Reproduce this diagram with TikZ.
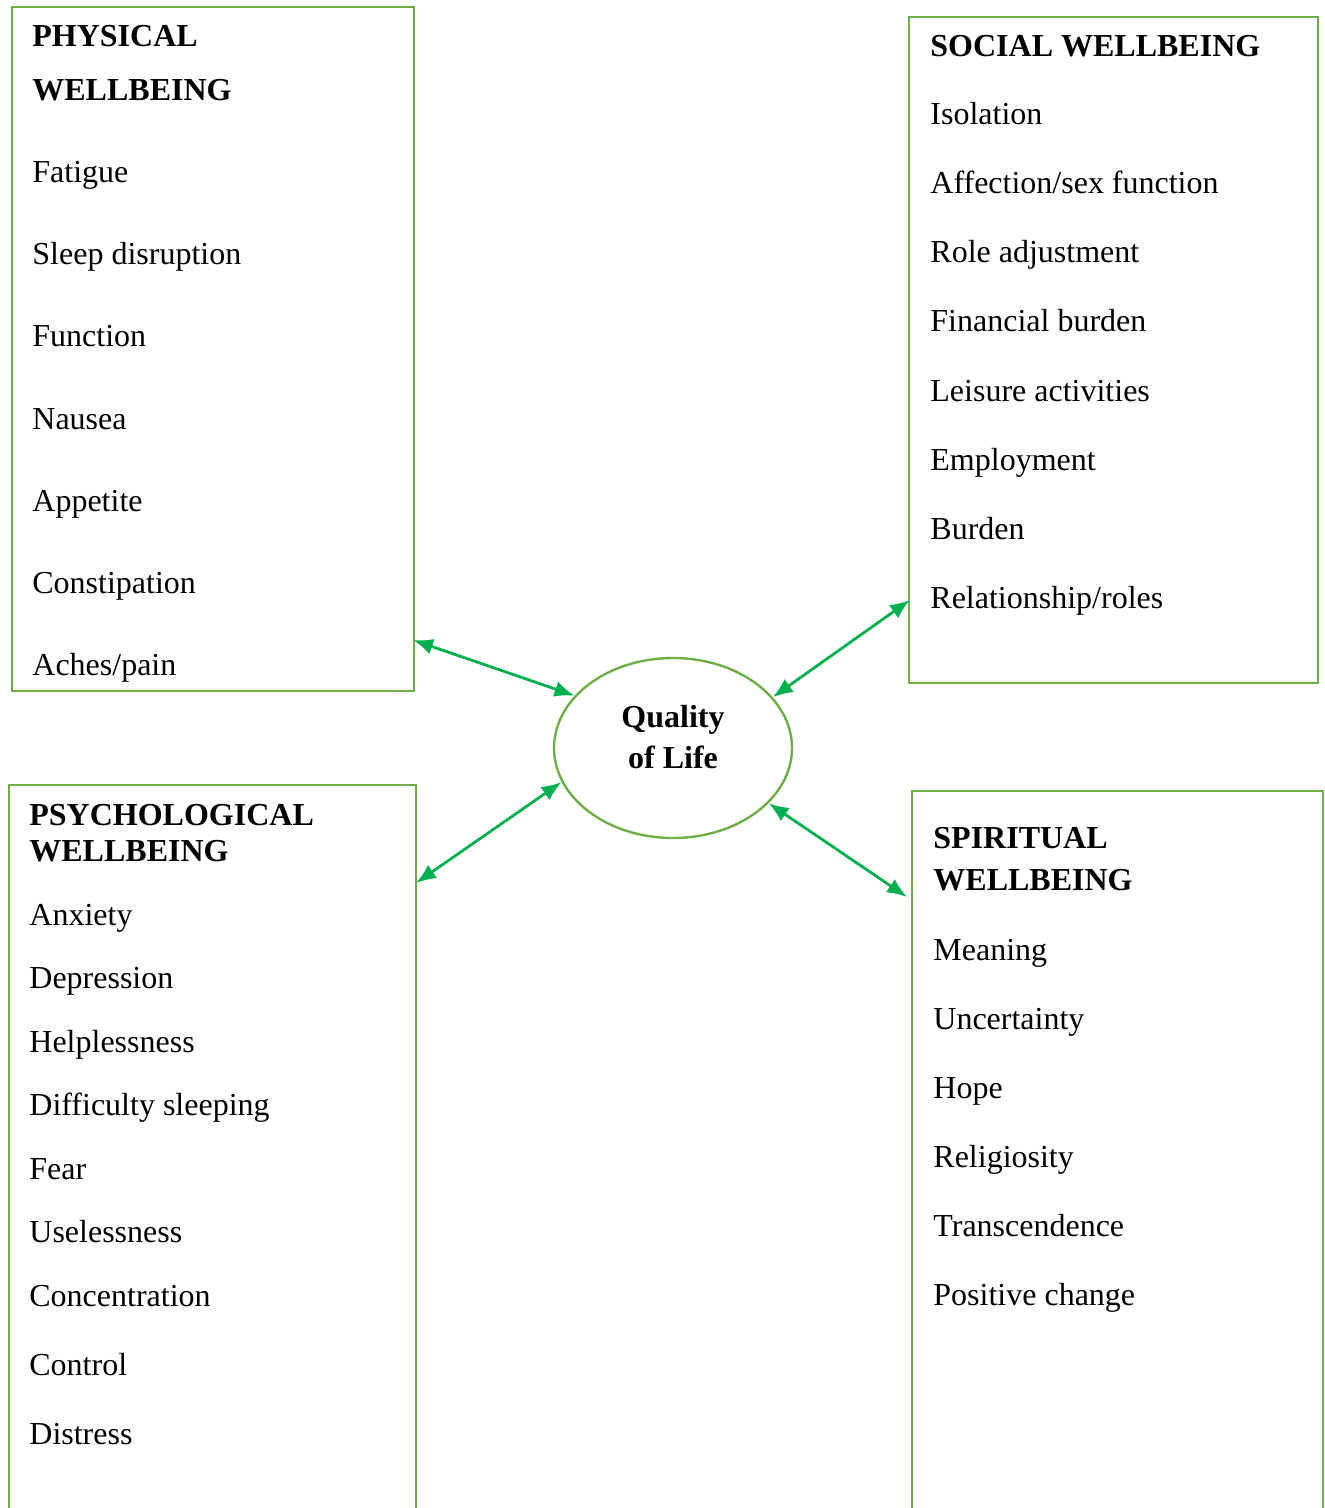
\documentclass[tikz,border=0pt]{standalone}
\usepackage{fontspec}
\setmainfont{Liberation Serif}
\usetikzlibrary{shapes.geometric,arrows.meta}
\definecolor{boxgreen}{HTML}{70AD47}
\definecolor{arrowgreen}{HTML}{00B050}
\tikzset{
  panel/.style = {draw=boxgreen, line width=1.2pt, rectangle, inner sep=0pt, anchor=north west},
  item/.style = {anchor=base west, inner sep=0pt, font=\fontsize{16}{20}\selectfont},
  head/.style = {item, font=\fontsize{16}{20}\selectfont\bfseries},
  link/.style = {draw=arrowgreen, line width=1.4pt, {Latex[length=10pt,width=8pt]}-{Latex[length=10pt,width=8pt]}}
}
\begin{document}
\begin{tikzpicture}[x = .5pt, y = -.5pt]
  \useasboundingbox (0,0) rectangle (1325,1508);
  \clip (0,0) rectangle (1325,1508);
  % boxes
  \node[panel, minimum width=201pt, minimum height=342pt] (phys) at (11,6) {};
  \node[panel, minimum width=204.5pt, minimum height=333pt] (soc) at (908,16) {};
  \node[panel, minimum width=203.5pt, minimum height=380pt] (psy) at (8,784) {};
  \node[panel, minimum width=205.5pt, minimum height=380pt] (spir) at (911,790) {};
  \node[draw=boxgreen, line width=1.2pt, ellipse, minimum width=119pt, minimum height=90pt, inner sep=0pt] (qol) at (673,748) {};
  \node[align=center, inner sep=0pt, font=\fontsize{16}{20.5}\selectfont\bfseries] (qoltxt) at (673,737) {Quality\\of Life};
  % physical
  \node[head] (p0) at (32,47) {PHYSICAL};
  \node[head] (p1) at (32,101) {WELLBEING};
  \node[item] (p2) at (32,183) {Fatigue};
  \node[item] (p3) at (32,265) {Sleep disruption};
  \node[item] (p4) at (32,347) {Function};
  \node[item] (p5) at (32,429) {Nausea};
  \node[item] (p6) at (32,511) {Appetite};
  \node[item] (p7) at (32,593) {Constipation};
  \node[item] (p8) at (32,675) {Aches/pain};
  % social
  \node[head] (s0) at (930,57) {SOCIAL WELLBEING};
  \node[item] (s1) at (930,125) {Isolation};
  \node[item] (s2) at (930,194) {Affection/sex function};
  \node[item] (s3) at (930,263) {Role adjustment};
  \node[item] (s4) at (930,332) {Financial burden};
  \node[item] (s5) at (930,401) {Leisure activities};
  \node[item] (s6) at (930,470) {Employment};
  \node[item] (s7) at (930,539) {Burden};
  \node[item] (s8) at (930,608) {Relationship/roles};
  % psychological
  \node[head] (y0) at (29,825) {PSYCHOLOGICAL};
  \node[head] (y1) at (29,861) {WELLBEING};
  \node[item] (y2) at (29,925) {Anxiety};
  \node[item] (y3) at (29,988) {Depression};
  \node[item] (y4) at (29,1052) {Helplessness};
  \node[item] (y5) at (29,1115) {Difficulty sleeping};
  \node[item] (y6) at (29,1179) {Fear};
  \node[item] (y7) at (29,1242) {Uselessness};
  \node[item] (y8) at (29,1306) {Concentration};
  \node[item] (y9) at (29,1375) {Control};
  \node[item] (y10) at (29,1444) {Distress};
  % spiritual
  \node[head] (r0) at (933,848) {SPIRITUAL};
  \node[head] (r1) at (933,890) {WELLBEING};
  \node[item] (r2) at (933,960) {Meaning};
  \node[item] (r3) at (933,1029) {Uncertainty};
  \node[item] (r4) at (933,1098) {Hope};
  \node[item] (r5) at (933,1167) {Religiosity};
  \node[item] (r6) at (933,1236) {Transcendence};
  \node[item] (r7) at (933,1305) {Positive change};
  % arrows
  \coordinate (physA) at (413,640);
  \coordinate (socA) at (910,600);
  \coordinate (psyA) at (416,883);
  \coordinate (spirA) at (907,897);
  \draw[link] (physA) -- (qol.152);
  \draw[link] (socA) -- (qol.27);
  \draw[link] (psyA) -- (qol.197);
  \draw[link] (spirA) -- (qol.330);
\end{tikzpicture}
\end{document}
